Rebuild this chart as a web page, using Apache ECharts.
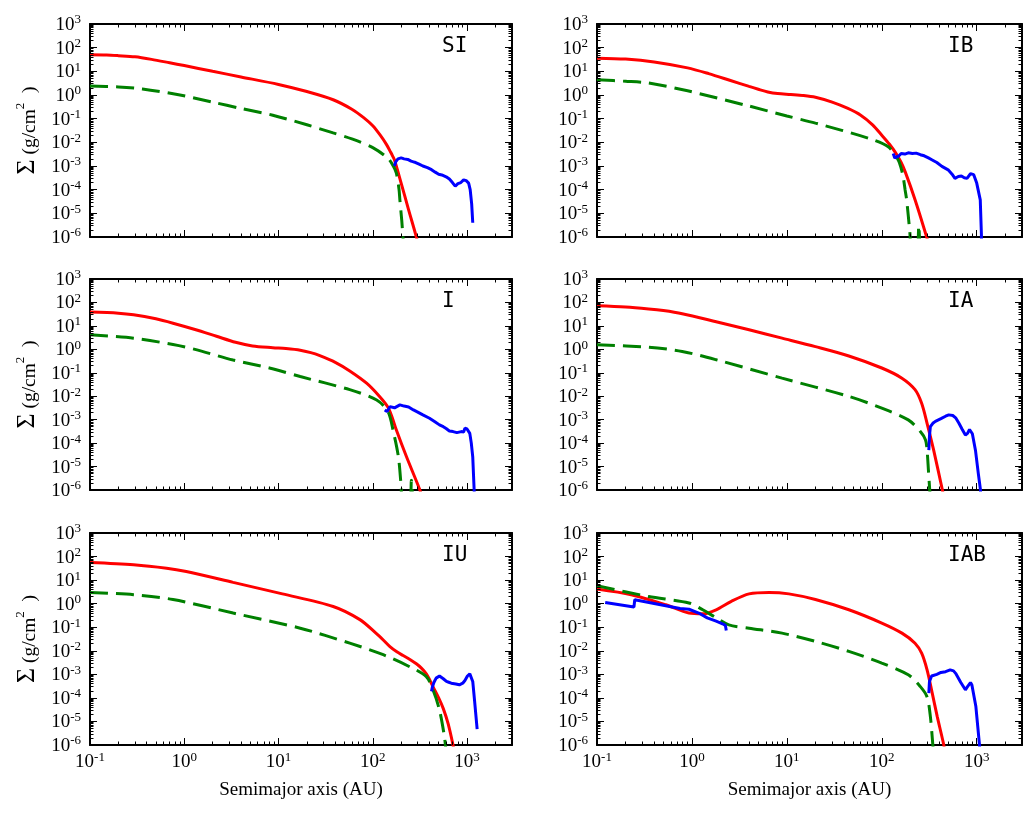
<!DOCTYPE html>
<html><head><meta charset="utf-8">
<script src="https://cdn.jsdelivr.net/npm/echarts@6/dist/echarts.min.js"></script>
<style>html,body{margin:0;padding:0;background:#fff}#c{width:1035px;height:817px}</style>
</head><body><div id="c"></div>
<script>
// ---------- DATA (semimajor axis in AU, surface density in g/cm^2) ----------
const panelNames = ['SI', 'IB', 'I', 'IA', 'IU', 'IAB'];

const siRed = [[0.1,50],[0.15,49],[0.2,46],[0.3,41],[0.45,32],[0.7,23],[1,17.5],[2,10],[4,5.8],[10,2.8],[20,1.4],[38,0.63],[60,0.25],[80,0.11],[100,0.05],[120,0.02],[140,8e-3],[155,3.8e-3],[162,2.7e-3],[170,1.8e-3],[200,1.9e-4],[240,1.4e-5],[290,1e-6],[300,5e-7]];
const siGreen = [[0.1,2.4],[0.2,2.2],[0.36,1.8],[0.9,1.0],[2,0.5],[4,0.27],[8.7,0.14],[20,0.055],[38,0.025],[60,0.014],[100,6e-3],[145,2.1e-3],[165,1e-3],[178,5e-4],[190,1e-4],[194,3.6e-5],[203,5e-6],[209,1e-6],[212,5e-7]];
const siBlue = [[170,1.0e-3],[175,1.5e-3],[185,2.0e-3],[200,2.2e-3],[215,2.0e-3],[235,1.9e-3],[255,1.6e-3],[270,1.5e-3],[285,1.4e-3],[310,1.2e-3],[340,1.0e-3],[380,8.5e-4],[420,7e-4],[460,5.5e-4],[500,4.5e-4],[540,4.2e-4],[600,3.5e-4],[650,2.8e-4],[700,2.0e-4],[750,1.4e-4],[800,1.8e-4],[860,2.0e-4],[920,2.6e-4],[980,2.4e-4],[1040,1.9e-4],[1080,1e-4],[1120,2.5e-5],[1150,4e-6]];

const ibRed = [[0.1,36],[0.2,33],[0.4,25],[0.9,14],[1.5,8],[2.5,4.2],[4,2.3],[5,1.75],[6.3,1.35],[8,1.15],[11,1.05],[15,0.95],[20,0.8],[30,0.5],[44,0.27],[60,0.14],[80,0.055],[100,0.02],[120,8.5e-3],[140,3.6e-3],[160,1.4e-3],[177,5.5e-4],[225,3.6e-5],[297,1e-6],[310,5e-7]];
const ibGreen = [[0.1,4.4],[0.2,3.8],[0.35,3.2],[0.9,1.5],[3.9,0.35],[10,0.13],[20,0.065],[72,0.015],[117,6.5e-3],[149,1.8e-3],[160,8e-4],[168,3.5e-4],[176,1e-4],[183,3.6e-5],[198,1.4e-6],[204,3e-7],[235,3e-7],[245,3e-6],[252,3e-7]];
const ibBlue = [[132,3.4e-3],[137,2.2e-3],[143,1.9e-3],[150,2.6e-3],[160,3.4e-3],[175,3.2e-3],[190,3.6e-3],[210,3.4e-3],[230,3.5e-3],[255,3.0e-3],[280,2.7e-3],[310,2.2e-3],[340,1.8e-3],[380,1.4e-3],[430,9.6e-4],[500,6.9e-4],[550,4.5e-4],[590,3.0e-4],[640,3.6e-4],[690,3.8e-4],[740,3.2e-4],[790,3.0e-4],[820,3.5e-4],[860,4.7e-4],[900,4.8e-4],[930,4.3e-4],[1000,1.9e-4],[1090,3.7e-5],[1120,1.4e-6],[1125,5e-7]];

const iRed = [[0.1,39],[0.2,35],[0.29,30],[0.5,20],[0.76,13],[1.3,7],[2.2,3.6],[3.5,2.0],[5.3,1.4],[8.7,1.18],[12,1.08],[17,0.92],[22,0.72],[27,0.55],[40,0.28],[57,0.12],[86,0.036],[118,9.8e-3],[145,3.4e-3],[160,1.3e-3],[178,3.6e-4],[228,2.6e-5],[316,1e-6],[330,5e-7]];
const iGreen = [[0.1,4.2],[0.29,3.0],[0.76,1.6],[1.3,1.0],[3.3,0.35],[8,0.16],[17,0.069],[57,0.019],[110,6.9e-3],[145,2.2e-3],[164,3.6e-4],[187,2.6e-5],[200,1.4e-6],[205,3e-7],[245,3e-7],[257,2.6e-6],[265,3e-7]];
const iBlue = [[134,2.6e-3],[142,2.2e-3],[152,3.6e-3],[170,3.2e-3],[194,4.3e-3],[215,3.8e-3],[240,3.5e-3],[270,2.6e-3],[300,2.1e-3],[340,1.6e-3],[400,1.15e-3],[460,8e-4],[510,6e-4],[560,5e-4],[600,4.2e-4],[650,3.3e-4],[710,3.1e-4],[780,2.8e-4],[870,3.1e-4],[920,3.0e-4],[950,4.3e-4],[1000,4.0e-4],[1070,2.6e-4],[1110,1e-4],[1150,2.6e-5],[1190,1e-6],[1195,5e-7]];

const iaRed = [[0.1,72],[0.2,64],[0.35,53],[0.5,45],[0.79,33],[1.8,15],[4,6.8],[8.9,3.0],[20,1.3],[45,0.52],[100,0.16],[163,0.059],[224,0.019],[263,5e-3],[300,7e-4],[352,5e-5],[435,1e-6],[450,5e-7]];
const iaGreen = [[0.1,1.56],[0.35,1.24],[0.79,0.81],[1.8,0.36],[8.9,0.059],[45,9.8e-3],[100,3.1e-3],[190,9.8e-4],[255,3.1e-4],[289,1.35e-4],[300,5e-5],[310,7e-6],[320,1e-6],[325,5e-7]];
const iaBlue = [[313,5e-5],[318,2e-4],[325,5e-4],[345,7e-4],[367,8.5e-4],[420,1.1e-3],[470,1.4e-3],[508,1.6e-3],[560,1.5e-3],[600,1.2e-3],[650,7e-4],[700,4e-4],[760,2.2e-4],[800,2.6e-4],[840,3.8e-4],[870,3.6e-4],[900,2.5e-4],[970,5e-5],[1040,5e-6],[1096,1e-6],[1100,5e-7]];

const iuRed = [[0.1,56],[0.29,45],[0.65,32],[1.05,23],[3.3,8],[11,2.6],[38,0.76],[73,0.21],[108,0.056],[130,0.028],[152,0.015],[180,9e-3],[210,6.3e-3],[250,4.2e-3],[290,2.8e-3],[330,1.8e-3],[370,1.05e-3],[400,6e-4],[435,3e-4],[500,1e-4],[560,3.5e-5],[630,8e-6],[710,1e-6],[730,5e-7]];
const iuGreen = [[0.1,3.0],[0.29,2.4],[0.76,1.5],[3.3,0.4],[17,0.091],[57,0.021],[129,6.8e-3],[246,2.1e-3],[370,8e-4],[435,2.2e-4],[510,3.1e-5],[575,2.3e-6],[600,5e-7]];
const iuBlue = [[420,1.9e-4],[430,3.0e-4],[445,4.5e-4],[470,6.9e-4],[490,6.5e-4],[510,8.5e-4],[535,8.7e-4],[560,6.5e-4],[605,5e-4],[640,4.6e-4],[680,4.2e-4],[710,4.3e-4],[760,3.9e-4],[830,3.6e-4],[900,4.2e-4],[950,5.5e-4],[1010,8.5e-4],[1070,1.05e-3],[1120,9e-4],[1150,5e-4],[1200,8.3e-5],[1280,4.7e-6]];

const iabRed = [[0.1,4.2],[0.23,2.4],[0.53,0.9],[0.93,0.4],[1.3,0.37],[1.8,0.55],[2.6,1.26],[4,2.6],[6.5,3.0],[10.5,2.6],[20,1.5],[45,0.55],[100,0.15],[163,0.056],[224,0.021],[263,7.9e-3],[300,1.55e-3],[340,1.6e-4],[384,1.6e-5],[450,1e-6],[460,5e-7]];
const iabGreen = [[0.1,5.8],[0.35,2.0],[0.93,1.07],[1.3,0.55],[1.8,0.25],[2.45,0.126],[4,0.091],[8.9,0.056],[20,0.025],[45,9.4e-3],[100,3e-3],[190,9.6e-4],[255,3e-4],[300,1.1e-4],[325,1.6e-5],[345,1e-6],[350,5e-7]];
const iabBlueInner = [[0.122,1.12],[0.245,0.72],[0.25,1.48],[0.53,0.81],[0.75,0.62],[0.93,0.58],[1.18,0.4],[1.45,0.25],[1.8,0.18],[2.1,0.14],[2.25,0.12],[2.3,0.072]];
const iabBlueOuter = [[313,1.6e-4],[318,5e-4],[335,8.5e-4],[380,1.0e-3],[420,1.2e-3],[470,1.3e-3],[525,1.55e-3],[570,1.4e-3],[600,1.1e-3],[680,4.5e-4],[760,2.2e-4],[800,3e-4],[860,4.5e-4],[890,3.5e-4],[980,4.3e-5],[1070,1e-6],[1080,5e-7]];

const xExtent = [0.1, 3000];
const yExtent = [1e-6, 1e3];
const xTitle = 'Semimajor axis (AU)';
const yTitle = '{g|Σ}{n| (g/cm}{s|2}{n|  )}';

// ---------- BUILD OPTIONS ----------
const panels = [
  {name: panelNames[0], red: siRed, green: siGreen, blue: [siBlue]},
  {name: panelNames[1], red: ibRed, green: ibGreen, blue: [ibBlue]},
  {name: panelNames[2], red: iRed, green: iGreen, blue: [iBlue]},
  {name: panelNames[3], red: iaRed, green: iaGreen, blue: [iaBlue]},
  {name: panelNames[4], red: iuRed, green: iuGreen, blue: [iuBlue]},
  {name: panelNames[5], red: iabRed, green: iabGreen, blue: [iabBlueInner, iabBlueOuter]}
];

const SERIF = "'Liberation Serif','Times New Roman',serif";
const MONO = "'DejaVu Sans Mono','Liberation Mono',monospace";
const colLeft = [90, 597], colWidth = [422, 425];
const rowTop = [24, 279, 533], rowHeight = [213, 211, 212];
const nameLeft = [442, 948];
const MAJ = 7, MIN = 3.5;

// tick values: minor at 2..9 x decade (majors come from the axes themselves)
const xMinorTicks = [], yMinorTicks = [];
for (let e = -1; e <= 3; e++) for (let k = 2; k <= 9; k++) {
  const v = k * Math.pow(10, e);
  if (v > xExtent[0] && v < xExtent[1]) xMinorTicks.push(v);
}
for (let e = -6; e <= 2; e++) for (let k = 2; k <= 9; k++) {
  const v = k * Math.pow(10, e);
  if (v > yExtent[0] && v < yExtent[1]) yMinorTicks.push(v);
}
const xMajorTicks = [1, 10, 100, 1000], yMajorTicks = [1e-5, 1e-4, 1e-3, 1e-2, 1e-1, 1, 10, 100];
const decX = Math.log10(xExtent[1] / xExtent[0]), decY = Math.log10(yExtent[1] / yExtent[0]);

const richLab = {
  b: {fontFamily: SERIF, fontSize: 19, color: '#000', lineHeight: 21, verticalAlign: 'bottom'},
  s: {fontFamily: SERIF, fontSize: 13, color: '#000', lineHeight: 9, verticalAlign: 'top'}
};
function powLabel(v) {
  const l = Math.log10(v), e = Math.round(l);
  if (Math.abs(l - e) > 1e-6) return '';
  return '{b|10}{s|' + e + '}';
}

const grid = [], xAxis = [], yAxis = [], series = [], title = [];
const axisTick = {show: true, inside: true, length: MAJ, lineStyle: {color: '#000', width: 1}};
panels.forEach((p, i) => {
  const row = Math.floor(i / 2), col = i % 2;
  grid.push({left: colLeft[col], top: rowTop[row], width: colWidth[col], height: rowHeight[row],
    show: false, containLabel: false});
  const bottomRow = row === 2;
  ['bottom', 'top'].forEach((pos, k) => {
    xAxis.push({type: 'log', logBase: 10, gridIndex: i, position: pos, min: xExtent[0], max: xExtent[1],
      axisLine: {show: true, onZero: false, lineStyle: {color: '#000', width: 2}}, splitLine: {show: false},
      axisTick: axisTick,
      axisLabel: {show: bottomRow && k === 0, formatter: powLabel, rich: richLab, margin: 6, hideOverlap: false},
      name: (bottomRow && k === 0) ? xTitle : '', nameLocation: 'middle', nameGap: 36,
      nameTextStyle: {fontFamily: SERIF, fontSize: 19, color: '#000'}});
  });
  ['left', 'right'].forEach((pos, k) => {
    yAxis.push({type: 'log', logBase: 10, gridIndex: i, position: pos, min: yExtent[0], max: yExtent[1],
      axisLine: {show: true, onZero: false, lineStyle: {color: '#000', width: 2}}, splitLine: {show: false},
      axisTick: axisTick,
      axisLabel: {show: k === 0, formatter: powLabel, rich: richLab, margin: 9, hideOverlap: false},
      name: (col === 0 && k === 0) ? yTitle : '', nameLocation: 'middle', nameRotate: 90, nameGap: 50,
      nameTextStyle: {rich: {
        g: {fontFamily: SERIF, fontSize: 26, color: '#000', lineHeight: 26, verticalAlign: 'bottom'},
        n: {fontFamily: SERIF, fontSize: 19.5, color: '#000', lineHeight: 26, verticalAlign: 'bottom'},
        s: {fontFamily: SERIF, fontSize: 13, color: '#000', verticalAlign: 'top'}}}});
  });
  const base = {type: 'line', xAxisIndex: 2 * i, yAxisIndex: 2 * i, showSymbol: false, symbol: 'none', clip: true, animation: false};
  series.push(Object.assign({}, base, {name: 'gas', data: p.red, smooth: 0.3,
    lineStyle: {color: '#ff0000', width: 3}, z: 2}));
  series.push(Object.assign({}, base, {name: 'dust', data: p.green, smooth: 0.3,
    lineStyle: {color: '#008000', width: 3, type: [18, 8]}, z: 3}));
  p.blue.forEach(b => series.push(Object.assign({}, base, {name: 'planetesimals', data: b,
    lineStyle: {color: '#0000ff', width: 3}, z: 4})));

  // inward tick marks on the four sides, drawn as short segments on the panel's own log axes
  const fy = L => Math.pow(10, L * decY / rowHeight[row]);
  const fx = L => Math.pow(10, L * decX / colWidth[col]);
  const segs = [];
  const addX = (v, L) => {
    const f = fy(L);
    segs.push({coords: [[v, yExtent[0]], [v, yExtent[0] * f]]});
    segs.push({coords: [[v, yExtent[1]], [v, yExtent[1] / f]]});
  };
  const addY = (v, L) => {
    const f = fx(L);
    segs.push({coords: [[xExtent[0], v], [xExtent[0] * f, v]]});
    segs.push({coords: [[xExtent[1], v], [xExtent[1] / f, v]]});
  };
  xMinorTicks.forEach(v => addX(v, MIN));
  yMinorTicks.forEach(v => addY(v, MIN));
  xMajorTicks.forEach(v => addX(v, MAJ));
  yMajorTicks.forEach(v => addY(v, MAJ));
  series.push({type: 'lines', name: 'ticks', coordinateSystem: 'cartesian2d', xAxisIndex: 2 * i, yAxisIndex: 2 * i,
    polyline: false, data: segs, silent: true, animation: false, z: 6,
    effect: {show: false}, lineStyle: {color: '#000', width: 1, opacity: 1, curveness: 0}});

  title.push({text: p.name, left: nameLeft[col], top: rowTop[row] + 12, padding: 0,
    textStyle: {fontFamily: MONO, fontSize: 21, fontWeight: 'normal', color: '#000'}});
});

const chart = echarts.init(document.getElementById('c'), null, {renderer: 'canvas'});
chart.setOption({backgroundColor: '#fff', animation: false, title, grid, xAxis, yAxis, series});
</script></body></html>
